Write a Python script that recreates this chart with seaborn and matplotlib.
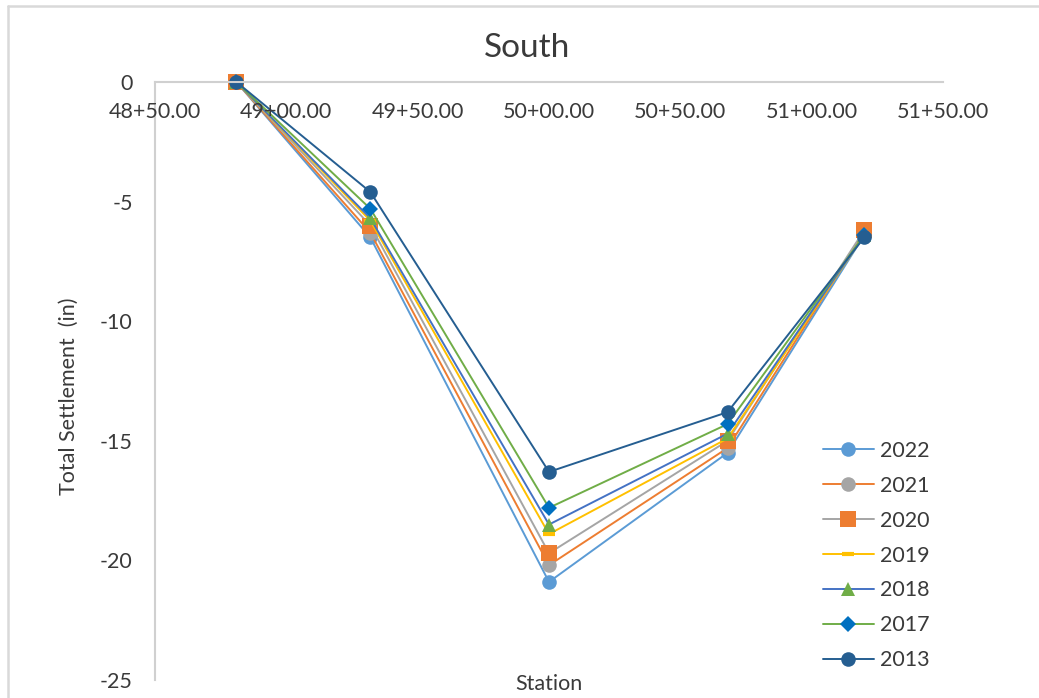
import matplotlib
matplotlib.use("Agg")
import matplotlib.pyplot as plt
from matplotlib.lines import Line2D
import seaborn as sns
import pandas as pd

# Station positions (ft) of the settlement plates
stations = [4881, 4932, 5000, 5068, 5120]

# Total settlement (in) per survey year
s2022 = [0.0, -6.5, -20.9, -15.5, -6.4]
s2021 = [0.0, -6.3, -20.2, -15.3, -6.3]
s2020 = [0.0, -6.0, -19.7, -15.0, -6.2]
s2019 = [0.0, -5.8, -18.9, -14.9, -6.4]
s2018 = [0.0, -5.7, -18.5, -14.7, -6.4]
s2017 = [0.0, -5.3, -17.8, -14.3, -6.4]
s2013 = [0.0, -4.6, -16.3, -13.8, -6.5]

years = ["2022", "2021", "2020", "2019", "2018", "2017", "2013"]
series = [s2022, s2021, s2020, s2019, s2018, s2017, s2013]

xticks = [4850, 4900, 4950, 5000, 5050, 5100, 5150]
xtick_labels = ["48+50.00", "49+00.00", "49+50.00", "50+00.00",
                "50+50.00", "51+00.00", "51+50.00"]
yticks = [0, -5, -10, -15, -20, -25]

# Office-style line / marker styling per year
line_colors = ["#5B9BD5", "#ED7D31", "#A5A5A5", "#FFC000", "#4472C4", "#70AD47", "#255E91"]
marker_colors = ["#5B9BD5", "#A5A5A5", "#ED7D31", "#FFC000", "#70AD47", "#0070C0", "#255E91"]
markers = ["o", "o", "s", "_", "^", "D", "o"]
marker_sizes = [10.5, 10.5, 11, 9, 10.5, 8, 10.5]

sns.set_theme(style="white")
plt.rcParams["font.family"] = ["Lato", "DejaVu Sans"]
text_color = "#3A3A3A"
fs = 15.5

fig = plt.figure(figsize=(10.39, 6.98), dpi=100)
ax = fig.add_axes([155 / 1039, 1 - 680 / 698, (943 - 155) / 1039, (680 - 82) / 698])

for yr, vals, lc, mc, mk, ms in zip(years, series, line_colors, marker_colors,
                                    markers, marker_sizes):
    df = pd.DataFrame({"Station": stations, "Settlement": vals})
    extra = {"markeredgewidth": 3} if mk == "_" else {"markeredgewidth": 0}
    sns.lineplot(data=df, x="Station", y="Settlement", ax=ax, color=lc,
                 linewidth=1.4, marker=mk, markersize=ms,
                 markerfacecolor=mc, markeredgecolor=mc, label=yr,
                 clip_on=False, **extra)

ax.set_xlim(4850, 5150)
ax.set_ylim(-25, 0)
ax.set_xticks(xticks, xtick_labels)
ax.set_yticks(yticks, [str(v) for v in yticks])

ax.xaxis.tick_top()
ax.tick_params(axis="x", length=0, pad=-28.5, labelsize=fs, labelcolor=text_color)
ax.tick_params(axis="y", length=0, pad=16, labelsize=fs, labelcolor=text_color)
ax.xaxis.set_zorder(3)

for side in ["right", "bottom"]:
    ax.spines[side].set_visible(False)
for side in ["left", "top"]:
    ax.spines[side].set_color("#D0D0D0")
    ax.spines[side].set_linewidth(1.5)

ax.set_xlabel("")
ax.set_ylabel("Total Settlement  (in)", fontsize=fs, color=text_color)
ax.yaxis.set_label_coords(-0.097, 0.475)

fig.text(549 / 1039, 1 - 684 / 698, "Station", ha="center", va="center",
         fontsize=fs, color=text_color)
fig.text(527 / 1039, 1 - 48 / 698, "South", ha="center", va="center",
         fontsize=24, color=text_color)

leg = ax.legend(loc="upper left", bbox_to_anchor=(823 / 1039, 1 - 441 / 698),
                bbox_transform=fig.transFigure, frameon=False, fontsize=fs,
                handlelength=2.35, handletextpad=0.3, labelspacing=0.69,
                borderpad=0, borderaxespad=0)
for t in leg.get_texts():
    t.set_color(text_color)

# Chart-area frame
fig.add_artist(Line2D([8 / 1039, 1], [1 - 6 / 698, 1 - 6 / 698],
                      transform=fig.transFigure, color="#D9D9D9", linewidth=1.8))
fig.add_artist(Line2D([8 / 1039, 8 / 1039], [0, 1 - 6 / 698],
                      transform=fig.transFigure, color="#D9D9D9", linewidth=1.8))

fig.savefig("out.png", dpi=100)
